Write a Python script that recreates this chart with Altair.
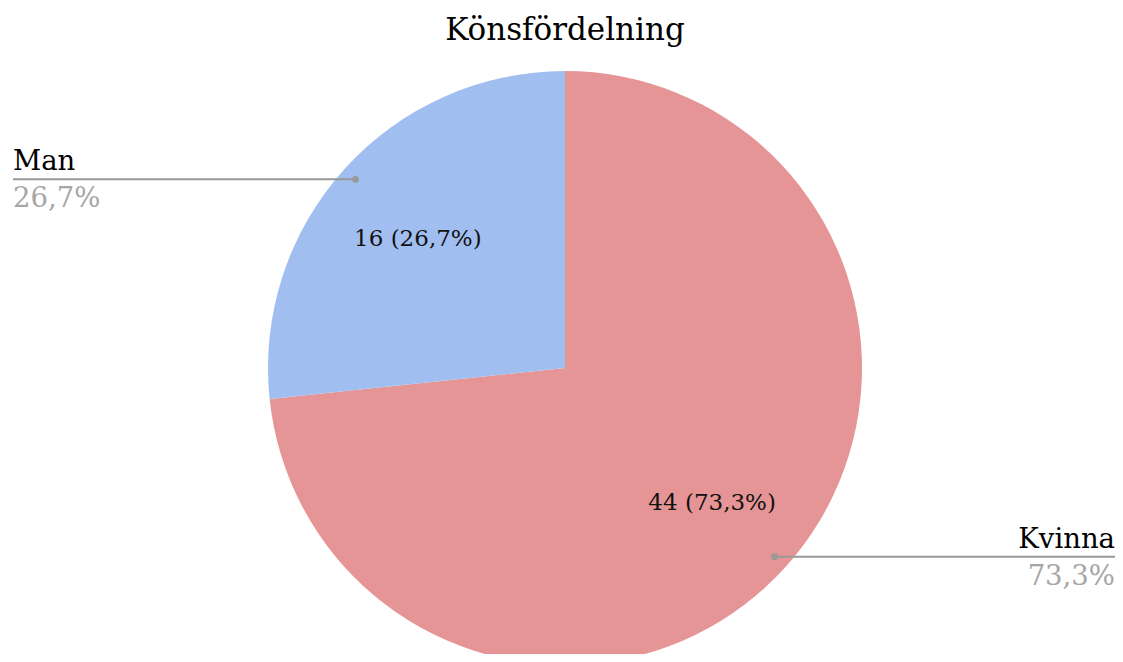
import math
import altair as alt
import pandas as pd

# ---- data ----
categories = ["Kvinna", "Man"]
counts = [44, 16]
colors = ["#E69596", "#A1BEF0"]
title_text = "Könsfördelning"

# ---- layout ----
W, H = 1107, 646
CX, CY = 557, 360
R = 297
R_IN = 198
R_DOT = 282
FONT = "DejaVu Serif"
GRAY = "#999999"

total = sum(counts)
rows = []
cum = 0.0
for i, (c, n) in enumerate(zip(categories, counts)):
    frac = n / total
    mid = (cum + frac / 2) * 2 * math.pi
    cum += frac
    pct = f"{frac * 100:.1f}".replace(".", ",") + "%"
    px = CX + R_DOT * math.sin(mid)
    py = CY - R_DOT * math.cos(mid)
    side = "right" if math.sin(mid) > 0 else "left"
    edge = W if side == "right" else 5
    rows.append(dict(cat=c, n=n, order=i, inner=f"{n} ({pct})", pct=pct,
                     px=px, py=py, ny=py - 9, pcty=py + 28, edge=edge, side=side))
df = pd.DataFrame(rows)

base = alt.Chart(df)

arcs = base.mark_arc(radius=R).encode(
    theta=alt.Theta("n:Q", stack=True),
    color=alt.Color("cat:N", scale=alt.Scale(domain=categories, range=colors), legend=None),
    order=alt.Order("order:Q"),
    x=alt.value(CX), y=alt.value(CY),
)

inner = base.mark_text(radius=R_IN, font=FONT, fontSize=23, color="#111111", dy=3).encode(
    theta=alt.Theta("n:Q", stack=True),
    order=alt.Order("order:Q"),
    text="inner:N",
    x=alt.value(CX), y=alt.value(CY),
)

rules = base.mark_rule(color=GRAY, strokeWidth=2).encode(
    x=alt.X("px:Q", scale=None), x2="edge:Q", y=alt.Y("py:Q", scale=None)
)
dots = base.mark_point(filled=True, color=GRAY, size=45, opacity=1).encode(
    x=alt.X("px:Q", scale=None), y=alt.Y("py:Q", scale=None)
)

def side_labels(side, align):
    b = base.transform_filter(alt.datum.side == side)
    name = b.mark_text(align=align, baseline="alphabetic", font=FONT, fontSize=27.5, color="#000000").encode(
        x=alt.X("edge:Q", scale=None), y=alt.Y("ny:Q", scale=None), text="cat:N")
    pct = b.mark_text(align=align, baseline="alphabetic", font=FONT, fontSize=27.5, color="#A6A6A6").encode(
        x=alt.X("edge:Q", scale=None), y=alt.Y("pcty:Q", scale=None), text="pct:N")
    return name + pct

title = alt.Chart(pd.DataFrame({"t": [title_text]})).mark_text(
    font=FONT, fontSize=31, color="#000000", baseline="alphabetic", align="center"
).encode(text="t:N", x=alt.value(CX), y=alt.value(32))

chart = alt.layer(
    arcs, inner, rules, dots, side_labels("left", "left"), side_labels("right", "right"), title
).properties(
    width=W, height=H,
    autosize=alt.AutoSizeParams(type="none"),
    padding=0,
    background="white",
).configure_view(stroke=None)

chart.save("out.html", embed_options={"renderer": "svg", "actions": False})
